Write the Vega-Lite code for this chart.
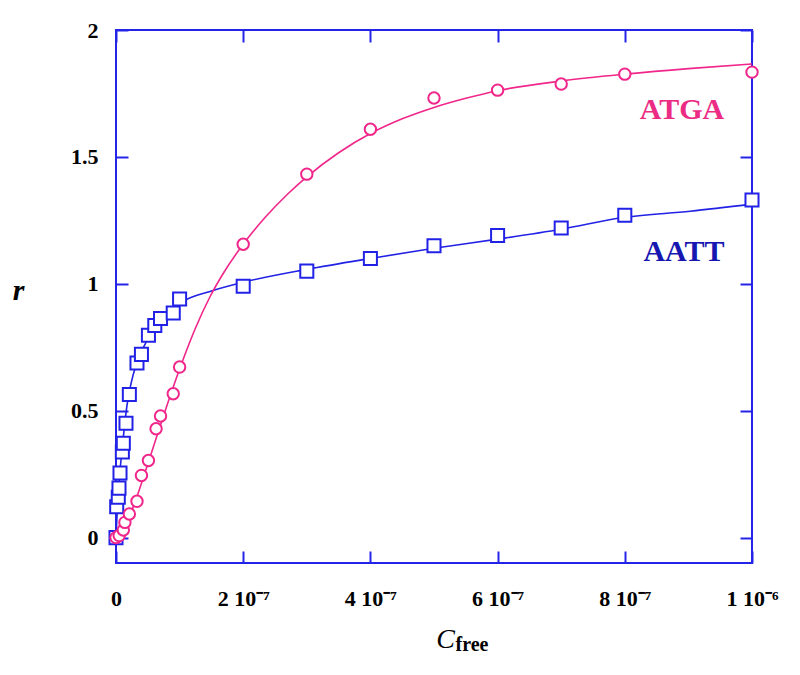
{
  "$schema": "https://vega.github.io/schema/vega-lite/v6.json",
  "width": 636,
  "height": 533,
  "autosize": {"type": "none"},
  "padding": {"left": 116, "top": 30, "right": 48, "bottom": 112},
  "background": "white",
  "config": {
    "view": {"stroke": "#2424e8", "strokeWidth": 2},
    "font": "Liberation Serif",
    "axis": {
      "grid": false,
      "domain": false,
      "tickColor": "#2424e8",
      "tickWidth": 2,
      "tickSize": -12,
      "labelFont": "Liberation Serif",
      "labelFontWeight": "bold",
      "labelFontSize": 22,
      "labelColor": "black",
      "titleFont": "Liberation Serif",
      "titleColor": "black"
    }
  },
  "title": {
    "text": "free",
    "orient": "bottom",
    "anchor": "middle",
    "dx": 38,
    "offset": -18,
    "font": "Liberation Serif",
    "fontSize": 20,
    "fontWeight": "bold",
    "color": "black"
  },
  "datasets": {
    "pts": [
      {"series": "AATT", "c": 0, "r": 0},
      {"series": "AATT", "c": 1.1e-9, "r": 0.122},
      {"series": "AATT", "c": 3.6e-9, "r": 0.159},
      {"series": "AATT", "c": 4.7e-9, "r": 0.195},
      {"series": "AATT", "c": 6.3e-9, "r": 0.255},
      {"series": "AATT", "c": 1.0e-8, "r": 0.337},
      {"series": "AATT", "c": 1.15e-8, "r": 0.372},
      {"series": "AATT", "c": 1.57e-8, "r": 0.451},
      {"series": "AATT", "c": 2.1e-8, "r": 0.564},
      {"series": "AATT", "c": 3.3e-8, "r": 0.688},
      {"series": "AATT", "c": 4.0e-8, "r": 0.722},
      {"series": "AATT", "c": 5.1e-8, "r": 0.797},
      {"series": "AATT", "c": 6.1e-8, "r": 0.836},
      {"series": "AATT", "c": 7.0e-8, "r": 0.863},
      {"series": "AATT", "c": 9.0e-8, "r": 0.885},
      {"series": "AATT", "c": 1.0e-7, "r": 0.94},
      {"series": "AATT", "c": 2e-7, "r": 0.99},
      {"series": "AATT", "c": 3e-7, "r": 1.05},
      {"series": "AATT", "c": 4e-7, "r": 1.10},
      {"series": "AATT", "c": 5e-7, "r": 1.15},
      {"series": "AATT", "c": 6e-7, "r": 1.19},
      {"series": "AATT", "c": 7e-7, "r": 1.22},
      {"series": "AATT", "c": 8e-7, "r": 1.27},
      {"series": "AATT", "c": 1e-6, "r": 1.33},
      {"series": "ATGA", "c": 0, "r": 0},
      {"series": "ATGA", "c": 5e-9, "r": 0.008},
      {"series": "ATGA", "c": 1.15e-8, "r": 0.03},
      {"series": "ATGA", "c": 1.4e-8, "r": 0.06},
      {"series": "ATGA", "c": 2.1e-8, "r": 0.093},
      {"series": "ATGA", "c": 3.3e-8, "r": 0.143},
      {"series": "ATGA", "c": 4.0e-8, "r": 0.245},
      {"series": "ATGA", "c": 5.1e-8, "r": 0.304},
      {"series": "ATGA", "c": 6.3e-8, "r": 0.429},
      {"series": "ATGA", "c": 7.0e-8, "r": 0.479},
      {"series": "ATGA", "c": 9.0e-8, "r": 0.567},
      {"series": "ATGA", "c": 1.0e-7, "r": 0.672},
      {"series": "ATGA", "c": 2e-7, "r": 1.156},
      {"series": "ATGA", "c": 3e-7, "r": 1.432},
      {"series": "ATGA", "c": 4e-7, "r": 1.609},
      {"series": "ATGA", "c": 5e-7, "r": 1.732},
      {"series": "ATGA", "c": 6e-7, "r": 1.763},
      {"series": "ATGA", "c": 7e-7, "r": 1.787},
      {"series": "ATGA", "c": 8e-7, "r": 1.826},
      {"series": "ATGA", "c": 1e-6, "r": 1.834}
    ],
    "fit": [
      {"series": "AATT", "c": 0, "r": 0},
      {"series": "AATT", "c": 1.6e-9, "r": 0.087},
      {"series": "AATT", "c": 3.1e-9, "r": 0.158},
      {"series": "AATT", "c": 6.3e-9, "r": 0.264},
      {"series": "AATT", "c": 9.4e-9, "r": 0.343},
      {"series": "AATT", "c": 1.26e-8, "r": 0.422},
      {"series": "AATT", "c": 1.73e-8, "r": 0.521},
      {"series": "AATT", "c": 2.36e-8, "r": 0.607},
      {"series": "AATT", "c": 3.14e-8, "r": 0.678},
      {"series": "AATT", "c": 4.09e-8, "r": 0.738},
      {"series": "AATT", "c": 5.35e-8, "r": 0.797},
      {"series": "AATT", "c": 6.92e-8, "r": 0.856},
      {"series": "AATT", "c": 8.81e-8, "r": 0.903},
      {"series": "AATT", "c": 1.085e-7, "r": 0.935},
      {"series": "AATT", "c": 1.478e-7, "r": 0.970},
      {"series": "AATT", "c": 2.0e-7, "r": 1.006},
      {"series": "AATT", "c": 3.0e-7, "r": 1.057},
      {"series": "AATT", "c": 4.0e-7, "r": 1.10},
      {"series": "AATT", "c": 5.0e-7, "r": 1.14},
      {"series": "AATT", "c": 6.0e-7, "r": 1.176},
      {"series": "AATT", "c": 7.0e-7, "r": 1.215},
      {"series": "AATT", "c": 8.0e-7, "r": 1.262},
      {"series": "AATT", "c": 9.03e-7, "r": 1.286},
      {"series": "AATT", "c": 1.0e-6, "r": 1.314},
      {"series": "ATGA", "c": 0, "r": 0},
      {"series": "ATGA", "c": 1.42e-8, "r": 0.046},
      {"series": "ATGA", "c": 3.0e-8, "r": 0.141},
      {"series": "ATGA", "c": 5.35e-8, "r": 0.317},
      {"series": "ATGA", "c": 7.7e-8, "r": 0.497},
      {"series": "ATGA", "c": 1.0e-7, "r": 0.664},
      {"series": "ATGA", "c": 1.24e-7, "r": 0.82},
      {"series": "ATGA", "c": 1.48e-7, "r": 0.95},
      {"series": "ATGA", "c": 1.7e-7, "r": 1.0465},
      {"series": "ATGA", "c": 2.0e-7, "r": 1.156},
      {"series": "ATGA", "c": 2.35e-7, "r": 1.263},
      {"series": "ATGA", "c": 2.7e-7, "r": 1.354},
      {"series": "ATGA", "c": 3.0e-7, "r": 1.4215},
      {"series": "ATGA", "c": 3.5e-7, "r": 1.5165},
      {"series": "ATGA", "c": 4.0e-7, "r": 1.592},
      {"series": "ATGA", "c": 4.5e-7, "r": 1.65},
      {"series": "ATGA", "c": 5.0e-7, "r": 1.695},
      {"series": "ATGA", "c": 5.5e-7, "r": 1.731},
      {"series": "ATGA", "c": 6.0e-7, "r": 1.761},
      {"series": "ATGA", "c": 7.0e-7, "r": 1.799},
      {"series": "ATGA", "c": 8.0e-7, "r": 1.826},
      {"series": "ATGA", "c": 9.0e-7, "r": 1.848},
      {"series": "ATGA", "c": 1.0e-6, "r": 1.866}
    ],
    "notes": [
      {"series": "AATT", "c": 8.93e-7, "r": 1.124, "label": "AATT"},
      {"series": "ATGA", "c": 8.9e-7, "r": 1.686, "label": "ATGA"}
    ]
  },
  "layer": [
    {
      "data": {"name": "fit"},
      "mark": {"type": "line", "interpolate": "monotone", "strokeWidth": 1.6},
      "encoding": {
        "x": {"field": "c", "type": "quantitative", "scale": {"domain": [0, 1e-6], "nice": false, "zero": false},
          "axis": {"orient": "bottom", "values": [0, 2e-7, 4e-7, 6e-7, 8e-7, 1e-6], "labelPadding": 37,
            "labelExpr": "datum.value == 0 ? '0' : (datum.value < 9e-7 ? round(datum.value * 1e7) + ' 10⁻⁷' : '1 10⁻⁶')",
            "labelFlush": false,
            "title": "C", "titleFontSize": 28, "titleFontStyle": "italic", "titleFontWeight": "normal", "titlePadding": 16, "titleX": 329}},
        "y": {"field": "r", "type": "quantitative", "scale": {"domain": [-0.1, 2], "nice": false, "zero": false},
          "axis": {"orient": "left", "values": [0, 0.5, 1, 1.5, 2], "labelPadding": 30, "labelExpr": "'' + datum.value",
            "title": "r", "titleAngle": 0, "titleFontSize": 30, "titleFontStyle": "italic", "titleFontWeight": "bold",
            "titleAlign": "center", "titleBaseline": "middle", "titleX": -98, "titleY": 260}},
        "color": {"field": "series", "type": "nominal", "scale": {"domain": ["AATT", "ATGA"], "range": ["#2222e6", "#f0268a"]}, "legend": null}
      }
    },
    {
      "data": {"name": "pts"},
      "mark": {"type": "point", "filled": false, "fill": "white", "fillOpacity": 1, "strokeWidth": 2, "opacity": 1},
      "encoding": {
        "x": {"field": "c", "type": "quantitative", "scale": {"domain": [0, 1e-6], "nice": false, "zero": false}, "axis": null},
        "y": {"field": "r", "type": "quantitative", "scale": {"domain": [-0.1, 2], "nice": false, "zero": false}, "axis": null},
        "color": {"field": "series", "type": "nominal", "scale": {"domain": ["AATT", "ATGA"], "range": ["#2222e6", "#f0268a"]}, "legend": null},
        "shape": {"field": "series", "type": "nominal", "scale": {"domain": ["AATT", "ATGA"], "range": ["square", "circle"]}, "legend": null},
        "size": {"field": "series", "type": "nominal", "scale": {"domain": ["AATT", "ATGA"], "range": [170, 130]}, "legend": null}
      }
    },
    {
      "data": {"name": "notes"},
      "mark": {"type": "text", "font": "Liberation Serif", "fontSize": 30, "fontWeight": "bold", "align": "center", "baseline": "middle"},
      "encoding": {
        "x": {"field": "c", "type": "quantitative", "scale": {"domain": [0, 1e-6], "nice": false, "zero": false}, "axis": null},
        "y": {"field": "r", "type": "quantitative", "scale": {"domain": [-0.1, 2], "nice": false, "zero": false}, "axis": null},
        "text": {"field": "label"},
        "color": {"field": "series", "type": "nominal", "scale": {"domain": ["AATT", "ATGA"], "range": ["#1616b0", "#ec2c84"]}, "legend": null}
      }
    },
    {
      "data": {"name": "notes"},
      "mark": {"type": "point", "opacity": 0},
      "encoding": {
        "x": {"field": "c", "type": "quantitative", "scale": {"domain": [0, 1e-6], "nice": false, "zero": false},
          "axis": {"orient": "top", "values": [0, 2e-7, 4e-7, 6e-7, 8e-7, 1e-6], "labels": false, "title": null}},
        "y": {"field": "r", "type": "quantitative", "scale": {"domain": [-0.1, 2], "nice": false, "zero": false},
          "axis": {"orient": "right", "values": [0, 0.5, 1, 1.5, 2], "labels": false, "title": null}}
      }
    }
  ],
  "resolve": {"axis": {"x": "independent", "y": "independent"}, "scale": {"color": "independent"}}
}
